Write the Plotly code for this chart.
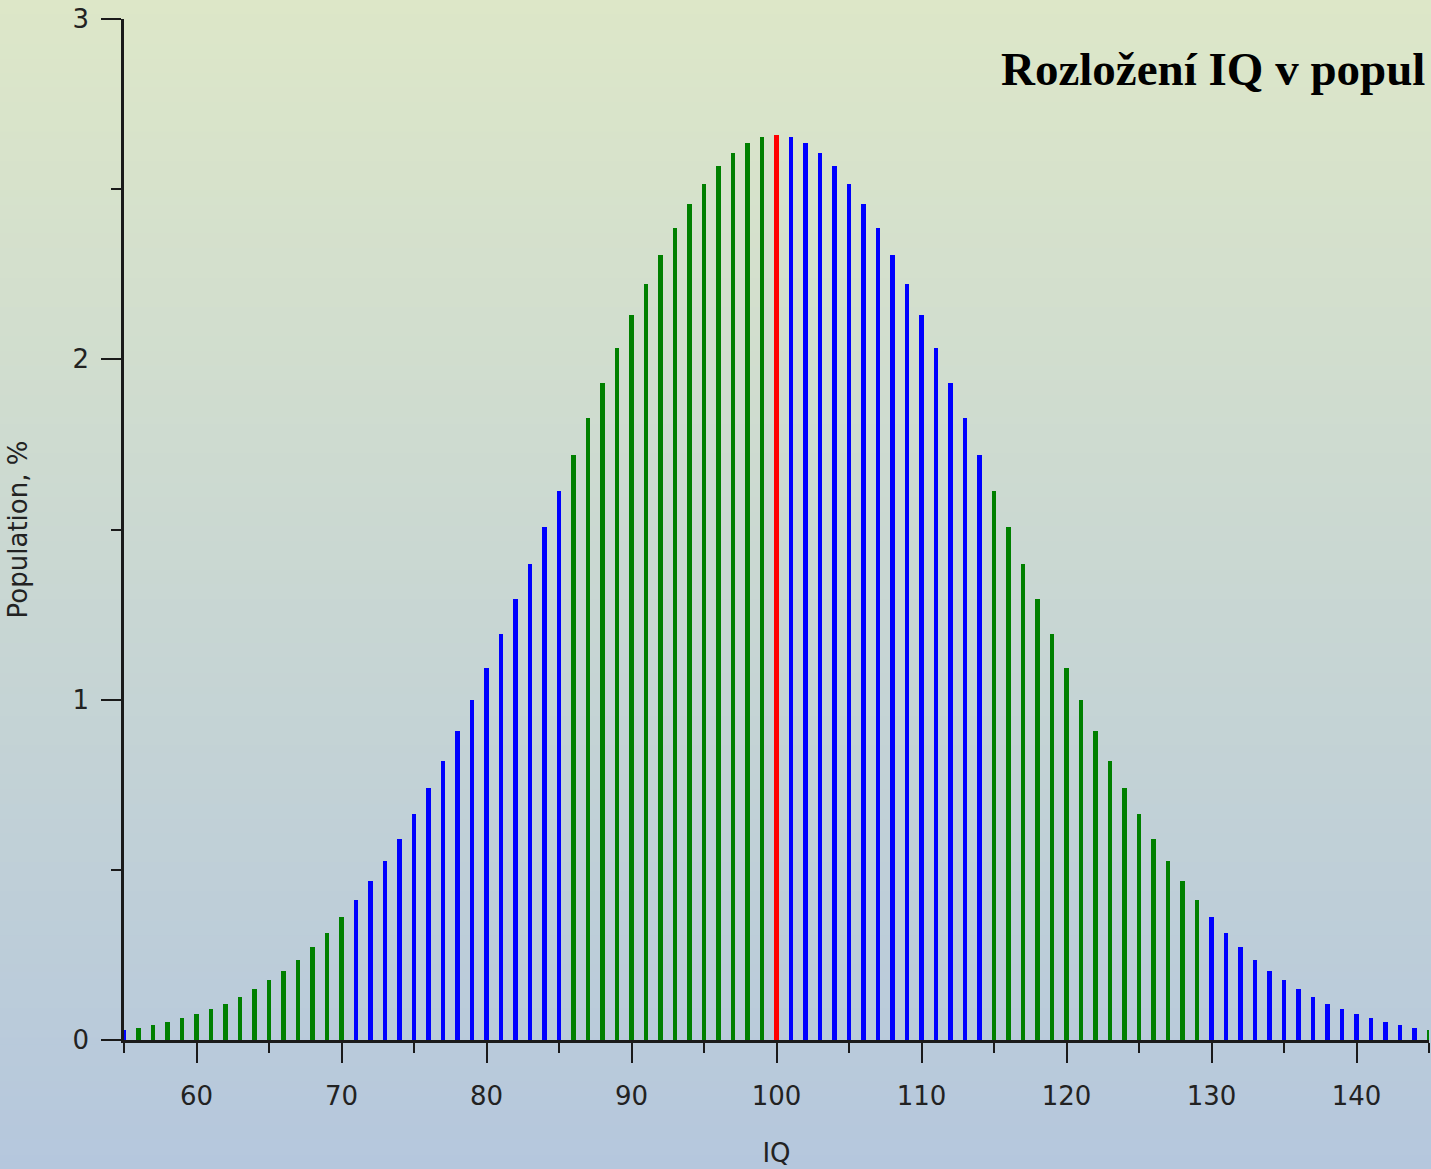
import plotly.graph_objects as go

# ---------------- data ----------------
iq = list(range(55, 146))
population = [
    0.030, 0.036, 0.044, 0.053, 0.064, 0.076, 0.091, 0.107, 0.127, 0.149,
    0.175, 0.204, 0.236, 0.273, 0.314, 0.360, 0.410, 0.466, 0.526, 0.592,
    0.663, 0.739, 0.821, 0.907, 0.998, 1.093, 1.192, 1.295, 1.399, 1.506,
    1.613, 1.720, 1.827, 1.931, 2.033, 2.130, 2.221, 2.307, 2.385, 2.455,
    2.516, 2.567, 2.607, 2.636, 2.654, 2.660,
    2.654, 2.636, 2.607, 2.567, 2.516, 2.455, 2.385, 2.307, 2.221, 2.130,
    2.033, 1.931, 1.827, 1.720, 1.613, 1.506, 1.399, 1.295, 1.192, 1.093,
    0.998, 0.907, 0.821, 0.739, 0.663, 0.592, 0.526, 0.466, 0.410, 0.360,
    0.314, 0.273, 0.236, 0.204, 0.175, 0.149, 0.127, 0.107, 0.091, 0.076,
    0.064, 0.053, 0.044, 0.036, 0.030,
]
# colour bands: (first IQ, last IQ, colour)
bands = [
    (55, 55, "blue"), (56, 70, "green"), (71, 85, "blue"), (86, 99, "green"),
    (100, 100, "red"), (101, 114, "blue"), (115, 129, "green"),
    (130, 144, "blue"), (145, 145, "green"),
]
palette = {"blue": "#0000ff", "green": "#008000", "red": "#ff0000"}
x_ticks = [60, 70, 80, 90, 100, 110, 120, 130, 140]
y_ticks = [0, 1, 2, 3]
# title as visible in the reference (it runs to the right edge there)
title_text = "Rozložení IQ v popul"


def colour_for(v):
    for lo, hi, c in bands:
        if lo <= v <= hi:
            return palette[c]
    return palette["blue"]


colors = [colour_for(v) for v in iq]

W, H = 1431, 1169
L, R, T, B = 124, 2, 19, 129
plot_w = W - L - R
plot_h = H - T - B

fig = go.Figure()
fig.add_trace(go.Bar(
    x=iq, y=population, marker=dict(color=colors, line=dict(width=0)),
    width=0.32, cliponaxis=False, hoverinfo="x+y",
))

# vertical background gradient (paper)
top_c = (221, 231, 200)
bot_c = (181, 199, 221)
n = 160
shapes = []
y_top = 1 + T / plot_h
y_bot = -B / plot_h
for i in range(n):
    f0 = i / n
    f1 = (i + 1) / n
    fm = (f0 + f1) / 2
    c = tuple(round(top_c[k] + (bot_c[k] - top_c[k]) * fm) for k in range(3))
    ya = y_top - (y_top - y_bot) * f0
    yb = y_top - (y_top - y_bot) * f1 - 0.002
    shapes.append(dict(
        type="rect", xref="paper", yref="paper",
        x0=-L / plot_w - 0.01, x1=1 + R / plot_w + 0.01,
        y0=yb, y1=ya, fillcolor="rgb(%d,%d,%d)" % c,
        line=dict(width=0), layer="below",
    ))

tick_font = dict(family="DejaVu Sans", size=26, color="#222222")
title_font = dict(family="DejaVu Sans", size=26, color="#222222")

fig.update_layout(
    width=W, height=H,
    margin=dict(l=L, r=R, t=T, b=B, autoexpand=False),
    paper_bgcolor="rgb(201,215,210)",
    plot_bgcolor="rgba(0,0,0,0)",
    shapes=shapes,
    showlegend=False,
    bargap=0,
    xaxis=dict(
        range=[55, 145], tickvals=x_ticks, ticks="outside", ticklen=20,
        tickwidth=2, tickcolor="#1a1a1a", showline=True, linewidth=2.5,
        linecolor="#1a1a1a", showgrid=False, zeroline=False,
        tickfont=tick_font, ticklabelstandoff=11,
        minor=dict(dtick=5, tick0=55, ticks="outside", ticklen=10,
                   tickwidth=2, tickcolor="#1a1a1a", showgrid=False),
        title=dict(text="IQ", font=title_font, standoff=34),
        automargin=False,
    ),
    yaxis=dict(
        range=[0, 3], tickvals=y_ticks, ticks="outside", ticklen=20,
        tickwidth=2, tickcolor="#1a1a1a", showline=True, linewidth=2.5,
        linecolor="#1a1a1a", showgrid=False, zeroline=False,
        tickfont=tick_font, ticklabelstandoff=7,
        minor=dict(dtick=0.5, tick0=0, ticks="outside", ticklen=10,
                   tickwidth=2, tickcolor="#1a1a1a", showgrid=False),
        title=dict(text="Population, %", font=title_font, standoff=38),
        automargin=False,
    ),
    annotations=[dict(
        text="<b>" + title_text + "</b>", xref="paper", yref="paper",
        x=(999 - L) / plot_w, y=(1040 - 69) / plot_h,
        xanchor="left", yanchor="middle", showarrow=False,
        font=dict(family="Liberation Serif", size=47, color="#000000"),
    )],
)

fig.write_html("out.html", config={"displayModeBar": False},
               post_script="document.body.style.margin='0';")
